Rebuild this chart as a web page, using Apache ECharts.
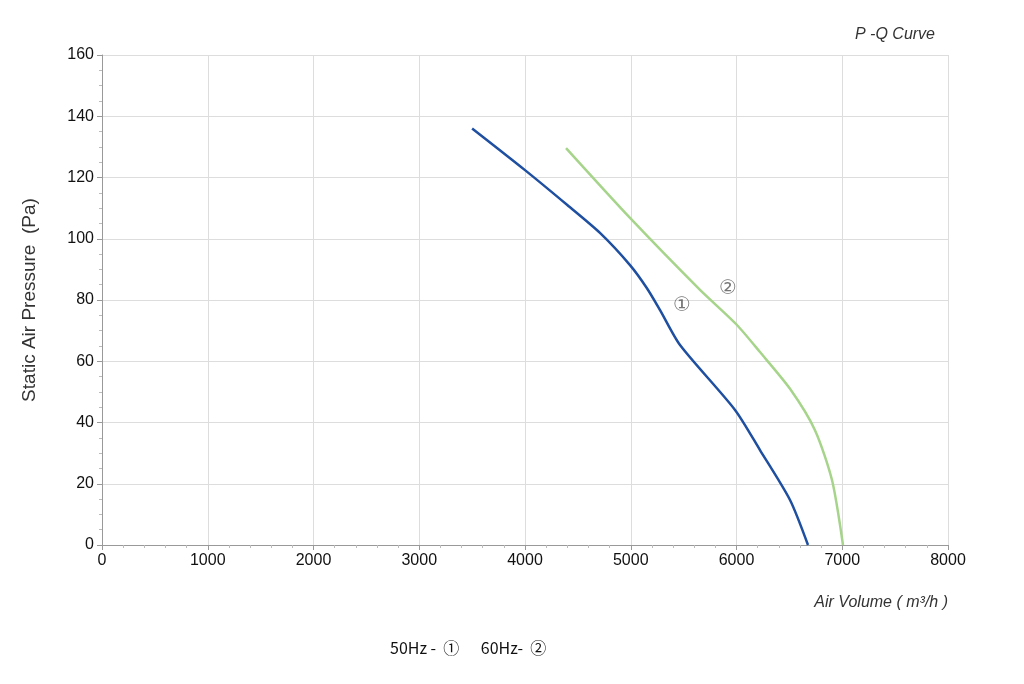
<!DOCTYPE html>
<html><head><meta charset="utf-8">
<script src="https://cdn.jsdelivr.net/npm/echarts@6/dist/echarts.min.js"></script>
<style>html,body{margin:0;padding:0;background:#fff}#c{width:1024px;height:684px}</style>
</head><body><div id="c"></div>
<script>
const curve50 = [[3500,136],[4000,122.4],[4400,111],[4709,101.9],[4993,91.4],[5150,84],[5277,76.7],[5466,65.3],[5986,44.1],[6222,31.0],[6506,14.7],[6676,0]];
const curve60 = [[4388,129.6],[4993,106.8],[5655,83.3],[6000,72],[6222,63],[6506,51],[6742,37.5],[6903,21.2],[7007,0]];
const marks = [{name:'①',value:[5485,78]},{name:'②',value:[5920,83.6]}];
const chart = echarts.init(document.getElementById('c'));
const font = 'Liberation Sans, Arial, sans-serif';
chart.setOption({
  animation:false,
  grid:{left:102,right:76,top:55,bottom:139},
  title:{text:'P -Q Curve',right:84,top:22,textStyle:{fontSize:16,fontStyle:'italic',fontWeight:'normal',color:'#333',fontFamily:font}},
  xAxis:{type:'value',min:0,max:8000,interval:1000,
    name:'Air Volume ( m³/h )',nameLocation:'end',nameGap:0,
    nameTextStyle:{fontSize:16,fontStyle:'italic',color:'#333',fontFamily:font,align:'right',verticalAlign:'top',padding:[50,0,0,0]},
    axisLine:{lineStyle:{color:'#999'}},axisTick:{show:true,lineStyle:{color:'#999'}},
    minorTick:{show:true,splitNumber:5,lineStyle:{color:'#bbb'}},
    axisLabel:{fontSize:16,color:'#111',fontFamily:font,formatter:v=>String(v)},
    splitLine:{lineStyle:{color:'#ddd'}}},
  yAxis:{type:'value',min:0,max:160,interval:20,
    name:'Static Air Pressure  (Pa)',nameLocation:'middle',nameGap:63,
    nameTextStyle:{fontSize:19,color:'#333',fontFamily:font},
    axisLine:{show:true,lineStyle:{color:'#999'}},axisTick:{show:true,lineStyle:{color:'#999'}},
    minorTick:{show:true,splitNumber:4,lineStyle:{color:'#bbb'}},
    axisLabel:{fontSize:16,color:'#111',fontFamily:font},
    splitLine:{lineStyle:{color:'#ddd'}}},
  series:[
    {type:'line',data:curve50,smooth:0.25,showSymbol:false,lineStyle:{color:'#1f4fa0',width:2.5}},
    {type:'line',data:curve60,smooth:0.25,showSymbol:false,lineStyle:{color:'#a6d48a',width:2.5}},
    {type:'scatter',data:marks,symbolSize:0,label:{show:true,position:'inside',formatter:p=>p.name,fontSize:20,color:'#555',fontFamily:'DejaVu Sans, sans-serif'}}
  ],
  graphic:[{type:'text',left:390,top:640,style:{text:'50Hz -  ①      60Hz-  ②',fontSize:16,fill:'#111',fontFamily:'Noto Sans CJK SC, sans-serif'}}]
});
</script></body></html>
